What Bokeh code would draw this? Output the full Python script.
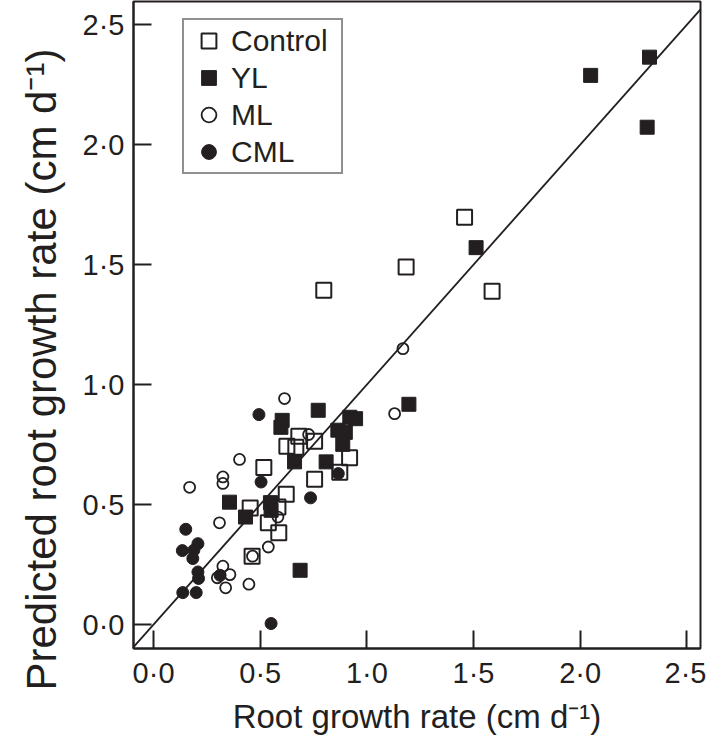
from bokeh.plotting import figure
from bokeh.models import (Range1d, FixedTicker, CustomJSTickFormatter, Slope,
                          Legend, LegendItem, Title)
from bokeh.embed import file_html
from bokeh.resources import INLINE

# ---- data (root growth rate vs predicted root growth rate, cm d-1) ----
control_x = [0.681, 0.625, 0.667, 0.755, 0.517, 0.919, 0.873, 0.755, 0.622,
             0.453, 0.583, 0.538, 0.587, 0.462, 0.798, 1.184, 1.458, 1.587]
control_y = [0.785, 0.743, 0.739, 0.764, 0.655, 0.695, 0.635, 0.605, 0.543,
             0.486, 0.490, 0.424, 0.383, 0.285, 1.393, 1.490, 1.698, 1.389]

yl_x = [2.049, 2.325, 2.314, 1.512, 1.197, 0.772, 0.603, 0.597, 0.920, 0.947,
        0.864, 0.899, 0.887, 0.661, 0.809, 0.356, 0.431, 0.548, 0.551, 0.687]
yl_y = [2.289, 2.365, 2.073, 1.571, 0.918, 0.893, 0.851, 0.822, 0.864, 0.858,
        0.810, 0.801, 0.751, 0.678, 0.678, 0.510, 0.448, 0.508, 0.476, 0.226]

ml_x = [0.614, 0.403, 0.325, 0.325, 0.169, 0.727, 1.130, 1.169, 0.309, 0.583,
        0.538, 0.464, 0.325, 0.358, 0.299, 0.338, 0.447]
ml_y = [0.942, 0.688, 0.615, 0.588, 0.572, 0.792, 0.879, 1.150, 0.424, 0.448,
        0.323, 0.285, 0.243, 0.208, 0.195, 0.153, 0.168]

cml_x = [0.494, 0.504, 0.736, 0.866, 0.151, 0.208, 0.135, 0.184, 0.189, 0.208,
         0.211, 0.312, 0.137, 0.200, 0.551]
cml_y = [0.875, 0.594, 0.528, 0.629, 0.397, 0.337, 0.308, 0.275, 0.310, 0.219,
         0.192, 0.205, 0.133, 0.133, 0.004]

series_names = ["Control", "YL", "ML", "CML"]
tick_values = [0.0, 0.5, 1.0, 1.5, 2.0, 2.5]
x_title = "Root growth rate (cm d\u207b\u00b9)"
y_title = "Predicted root growth rate (cm d\u207b\u00b9)"

INK = "#231f20"
FONT = "Liberation Sans"

p = figure(output_backend="svg", toolbar_location=None,
           frame_width=567, frame_height=647,
           x_range=Range1d(-0.094, 2.564), y_range=Range1d(-0.1, 2.597),
           min_border_left=131, min_border_right=6, min_border_top=1,
           min_border_bottom=10)

p.background_fill_color = "white"
p.border_fill_color = "white"
p.outline_line_color = INK
p.outline_line_width = 2
p.xgrid.visible = False
p.ygrid.visible = False

fmt = CustomJSTickFormatter(code="return tick.toFixed(1).replace('.', '\u00b7');")
for ax in (p.xaxis[0], p.yaxis[0]):
    ax.ticker = FixedTicker(ticks=tick_values)
    ax.formatter = fmt
    ax.major_tick_in = 18
    ax.major_tick_out = 0
    ax.minor_tick_line_color = None
    ax.major_tick_line_color = INK
    ax.major_tick_line_width = 2
    ax.axis_line_color = INK
    ax.axis_line_width = 2
    ax.major_label_text_font = FONT
    ax.major_label_text_font_size = "29px"
    ax.major_label_text_color = INK
    ax.axis_label_text_font = FONT
    ax.axis_label_text_font_style = "normal"
    ax.axis_label_text_color = INK

p.xaxis.axis_label = x_title
p.xaxis.axis_label_text_font_size = "33px"
p.xaxis.major_label_standoff = 8
p.xaxis.axis_label_standoff = 6

p.yaxis.major_label_standoff = 9

# y-axis title as a side title, starting below the frame as in the reference
p.add_layout(Title(text=y_title, align="left", offset=-42, standoff=30,
                   text_font=FONT, text_font_size="42px",
                   text_font_style="normal", text_color=INK), "left")

# 1:1 line
p.add_layout(Slope(gradient=1, y_intercept=0, line_color=INK, line_width=1.8))

r_c = p.scatter(control_x, control_y, marker="square", size=15,
                fill_alpha=0, line_color=INK, line_width=2)
r_y = p.scatter(yl_x, yl_y, marker="square", size=14,
                fill_color=INK, line_color=INK, line_width=1)
r_m = p.scatter(ml_x, ml_y, marker="circle", size=11,
                fill_alpha=0, line_color=INK, line_width=1.8)
r_cm = p.scatter(cml_x, cml_y, marker="circle", size=12,
                 fill_color=INK, line_color=INK, line_width=1)

legend = Legend(items=[LegendItem(label=n, renderers=[r])
                       for n, r in zip(series_names, [r_c, r_y, r_m, r_cm])],
                location=(49, 474))
legend.label_text_font = FONT
legend.label_text_font_size = "30px"
legend.label_text_color = INK
legend.glyph_width = 45
legend.glyph_height = 37
legend.label_height = 37
legend.spacing = 0
legend.padding = 2
legend.label_standoff = 0
legend.label_width = 108
legend.border_line_color = INK
legend.border_line_width = 2
legend.background_fill_color = "white"
legend.background_fill_alpha = 1
legend.margin = 0
p.add_layout(legend, "center")

open("out.html", "w").write(file_html(p, INLINE))
